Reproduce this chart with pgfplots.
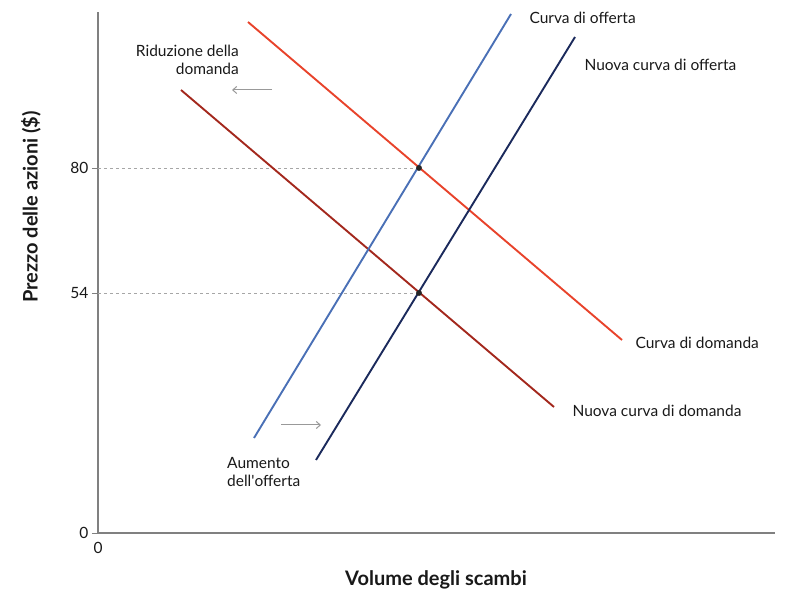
\documentclass[border=0pt]{standalone}
\usepackage{pgfplots}
\pgfplotsset{compat=1.18}
\usepackage{fontspec}
\setmainfont{Lato}
\usetikzlibrary{arrows.meta}
\definecolor{dem}{HTML}{E8432B}
\definecolor{newdem}{HTML}{A3281D}
\definecolor{sup}{HTML}{4A70B6}
\definecolor{newsup}{HTML}{1B2A5C}
\definecolor{axgray}{HTML}{808080}
\newcommand{\lbl}{\fontsize{15.5}{18.5}\selectfont}
\newcommand{\axlbl}{\fontsize{20}{23}\selectfont\bfseries}
\begin{document}
\begin{tikzpicture}
\path[use as bounding box] (-98pt,-66pt) rectangle (712pt,533pt);
\begin{axis}[
    x=1pt, y=1pt,
    xmin=0, xmax=677, ymin=0, ymax=521,
    axis lines=left,
    axis line style={axgray, line width=1.3pt, -},
    xtick={0}, xticklabels={0},
    ytick={0,240,365}, yticklabels={0,54,80},
    x tick style={draw=none},
    y tick style={axgray, line width=0.8pt},
    major tick length=6pt,
    tick align=outside,
    tick label style={font=\lbl, text=black!90},
    /pgf/number format/assume math mode=true,
    clip=false,
]
\addplot[gray!70, dashed, line width=0.7pt] coordinates {(0,365) (321,365)};
\addplot[gray!70, dashed, line width=0.7pt] coordinates {(0,240) (321,240)};
\addplot[dem, line width=1.9pt] coordinates {(150,511) (524,193)};
\addplot[newdem, line width=1.9pt] coordinates {(83,443) (456,126)};
\addplot[sup, line width=1.9pt] coordinates {(156,95) (413,519)};
\addplot[newsup, line width=1.9pt] coordinates {(218,73) (477,496)};
\addplot[only marks, mark=*, mark size=2.7pt, color=black!85] coordinates {(321,365) (321,240)};
\draw[gray!80, line width=1pt, -{Straight Barb[length=4pt,width=7pt]}] (axis cs:174,443) -- (axis cs:134,443);
\draw[gray!80, line width=1pt, -{Straight Barb[length=4pt,width=7pt]}] (axis cs:183,108) -- (axis cs:223,108);
\node[anchor=west, font=\lbl, text=black!90] at (axis cs:428,515) {Curva di offerta};
\node[anchor=west, font=\lbl, text=black!90] at (axis cs:483,468) {Nuova curva di offerta};
\node[anchor=west, font=\lbl, text=black!90] at (axis cs:534,190) {Curva di domanda};
\node[anchor=west, font=\lbl, text=black!90] at (axis cs:471,122) {Nuova curva di domanda};
\node[anchor=east, align=right, font=\lbl, text=black!90, inner sep=0pt] at (axis cs:141,473) {Riduzione della\\domanda};
\node[anchor=west, align=left, font=\lbl, text=black!90, inner sep=0pt] at (axis cs:129,61) {Aumento\\dell\textquotesingle offerta};
\node[rotate=90, font=\axlbl, text=black!90] at (axis cs:-67,326) {Prezzo delle azioni (\$)};
\node[font=\axlbl, text=black!90] at (axis cs:338,-47) {Volume degli scambi};
\end{axis}
\end{tikzpicture}
\end{document}
